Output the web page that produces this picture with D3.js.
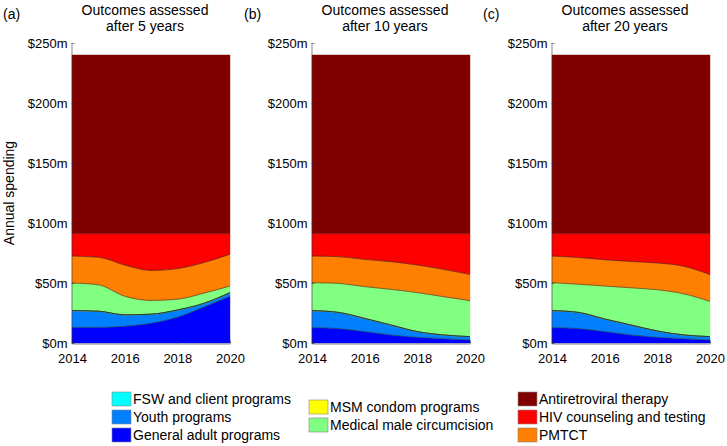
<!DOCTYPE html>
<html><head><meta charset="utf-8">
<script src="https://cdn.jsdelivr.net/npm/d3@7"></script>
<style>
body{margin:0;background:#fff;}
text{font-family:"Liberation Sans",Arial,Helvetica,sans-serif;fill:#000;}
</style></head>
<body>
<svg id="chart" width="727" height="446"></svg>
<script>
// ---- data (annual spending, $ millions, per program layer) ----
const years = [2014, 2015, 2016, 2017, 2018, 2019, 2020];
const yTicks = [0, 50, 100, 150, 200, 250];
const xTicks = [2014, 2016, 2018, 2020];
const panelLabels = ["(a)", "(b)", "(c)"];
const panelTitles = [["Outcomes assessed", "after 5 years"], ["Outcomes assessed", "after 10 years"], ["Outcomes assessed", "after 20 years"]];

// panel (a) after 5 years
const generalA = [13, 13, 14, 16.5, 21.5, 30, 39];
const youthA   = [14, 13.5, 9.5, 7.5, 6, 3, 3];
const fswA     = [0, 0, 0, 0, 0, 0, 0];
const msmA     = [0, 0, 0, 0, 0, 0, 0];
const mmcA     = [23, 22, 15.5, 11.5, 9, 8.5, 5.5];
const pmtctA   = [22.5, 23, 26, 25, 25.5, 25.5, 26.5];
const hivA     = [18.5, 19.5, 26, 30.5, 29, 24, 17];
const artA     = [149, 149, 149, 149, 149, 149, 149];

// panel (b) after 10 years
const generalB = [12.8, 12, 9.5, 6.7, 4.7, 3.6, 2.5];
const youthB   = [14.2, 13.5, 11, 8.3, 4.8, 3.1, 2.8];
const fswB     = [0, 0, 0, 0, 0, 0, 0];
const msmB     = [0, 0, 0, 0, 0, 0, 0];
const mmcB     = [23.3, 24.2, 26.5, 29.7, 32.5, 31.9, 30];
const pmtctB   = [22.2, 22.3, 22.7, 23.1, 23, 22.8, 21.9];
const hivB     = [18.5, 19, 21.3, 23.2, 26, 29.6, 33.8];
const artB     = [149, 149, 149, 149, 149, 149, 149];

// panel (c) after 20 years
const generalC = [12.8, 12, 9.5, 6.7, 4.7, 3.6, 2.5];
const youthC   = [14.2, 13.5, 10.5, 8.3, 5.3, 3.1, 2.8];
const fswC     = [0, 0, 0, 0, 0, 0, 0];
const msmC     = [0, 0, 0, 0, 0, 0, 0];
const mmcC     = [23.3, 23.5, 27.5, 31, 34.4, 34.3, 29.4];
const pmtctC   = [22.2, 22.3, 21.9, 22, 22.3, 23, 22.3];
const hivC     = [18.5, 19.7, 21.6, 23, 24.3, 27, 34];
const artC     = [149, 149, 149, 149, 149, 149, 149];

const seriesKeys  = ["general", "youth", "fsw", "msm", "mmc", "pmtct", "hiv", "art"];
const seriesNames = ["General adult programs", "Youth programs", "FSW and client programs", "MSM condom programs",
                     "Medical male circumcision", "PMTCT", "HIV counseling and testing", "Antiretroviral therapy"];
const seriesColors = ["#0000ff", "#0080ff", "#00ffff", "#ffff00", "#80ff80", "#ff8000", "#ff0000", "#800000"];

const panelData = [
  [generalA, youthA, fswA, msmA, mmcA, pmtctA, hivA, artA],
  [generalB, youthB, fswB, msmB, mmcB, pmtctB, hivB, artB],
  [generalC, youthC, fswC, msmC, mmcC, pmtctC, hivC, artC]
];

// ---- drawing ----
const svg = d3.select("#chart");
const color = d3.scaleOrdinal().domain(seriesKeys).range(seriesColors);
const plotTop = 43, plotBottom = 343, plotW = 158;
const y = d3.scaleLinear().domain([0, 250]).range([plotBottom, plotTop]);

panelData.forEach((arrs, pi) => {
  const left = 72 + pi * 240;
  const x = d3.scaleLinear().domain([2014, 2020]).range([left, left + plotW]);
  const rows = years.map((yr, i) => {
    const r = {year: yr};
    seriesKeys.forEach((k, j) => r[k] = arrs[j][i]);
    return r;
  });
  const stacked = d3.stack().keys(seriesKeys)(rows);
  const curve = d3.curveMonotoneX;
  const area = d3.area().x(d => x(d.data.year)).y0(d => y(d[0])).y1(d => y(d[1])).curve(curve);
  const topLine = d3.line().x(d => x(d.data.year)).y(d => y(d[1])).curve(curve);
  const g = svg.append("g");
  g.selectAll("path.layer").data(stacked).join("path")
    .attr("class", "layer")
    .attr("d", area)
    .attr("fill", d => color(d.key))
    .attr("stroke", d => color(d.key)).attr("stroke-width", 0.4);
  g.selectAll("path.edge").data(stacked.filter(s => s.key !== "art" && s.key !== "hiv")).join("path")
    .attr("class", "edge")
    .attr("d", topLine)
    .attr("fill", "none").attr("stroke", "#2a2a2a").attr("stroke-width", 0.7).attr("stroke-opacity", 0.8);

  // axes
  const yAxis = d3.axisLeft(y).tickValues(yTicks).tickSizeInner(-3).tickSizeOuter(0).tickPadding(4)
    .tickFormat(v => "$" + v + "m");
  const ya = svg.append("g").attr("transform", `translate(${left - 0.5},0)`).call(yAxis);
  const xAxis = d3.axisBottom(x).tickValues(xTicks).tickSizeInner(-3).tickSizeOuter(0).tickPadding(10)
    .tickFormat(d3.format("d"));
  const xa = svg.append("g").attr("transform", `translate(0,${plotBottom + 0.5})`).call(xAxis);
  [ya, xa].forEach(a => {
    a.selectAll("text").style("font-size", "13px").style("font-family", '"Liberation Sans",Arial,sans-serif').attr("fill", "#000");
    a.selectAll("line").attr("stroke", "#333").attr("stroke-width", 0.6);
    a.select(".domain").attr("stroke", "#333").attr("stroke-width", 0.6);
  });

  // titles
  const cx = left + plotW / 2 - 6;
  svg.append("text").attr("x", cx).attr("y", 15).attr("text-anchor", "middle").style("font-size", "14px").text(panelTitles[pi][0]);
  svg.append("text").attr("x", cx).attr("y", 31).attr("text-anchor", "middle").style("font-size", "14px").text(panelTitles[pi][1]);
  const lx = [3, 244, 483][pi];
  svg.append("text").attr("x", lx).attr("y", 19).style("font-size", "14px").text(panelLabels[pi]);
});

svg.append("text").attr("transform", `translate(14,${(plotTop + plotBottom) / 2}) rotate(-90)`)
  .attr("text-anchor", "middle").style("font-size", "14px").text("Annual spending");

// legend
const legendCols = [
  {x: 112, y: 399, keys: ["fsw", "youth", "general"]},
  {x: 309, y: 407, keys: ["msm", "mmc"]},
  {x: 518, y: 399, keys: ["art", "hiv", "pmtct"]}
];
legendCols.forEach(col => {
  col.keys.forEach((k, i) => {
    const cy = col.y + i * 18;
    svg.append("rect").attr("x", col.x).attr("y", cy - 7).attr("width", 19).attr("height", 14)
      .attr("fill", color(k)).attr("stroke", "#888").attr("stroke-width", 0.6);
    svg.append("text").attr("x", col.x + 21).attr("y", cy + 5).style("font-size", "14px")
      .text(seriesNames[seriesKeys.indexOf(k)]);
  });
});
</script>
</body></html>
